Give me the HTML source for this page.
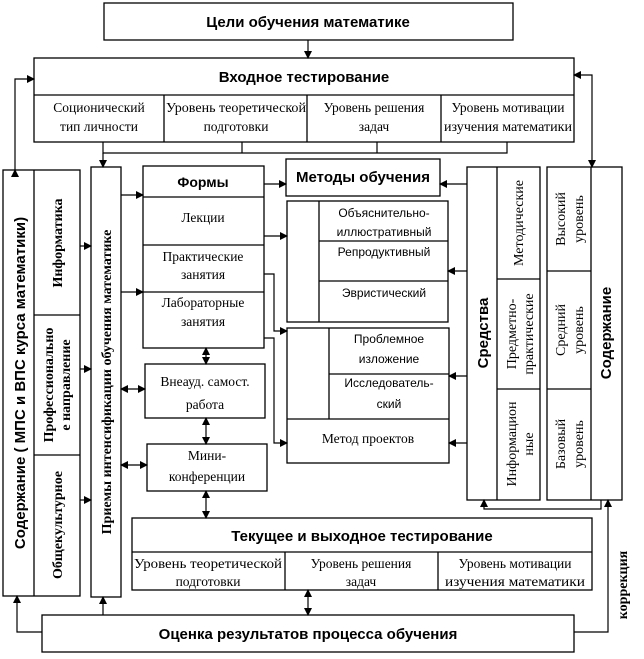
<!DOCTYPE html>
<html><head><meta charset="utf-8"><style>
html,body{margin:0;padding:0;background:#fff}
svg{display:block}
.s{font-family:"Liberation Sans",sans-serif}
.r{font-family:"Liberation Serif",serif}
</style></head><body>
<svg width="644" height="659" viewBox="0 0 644 659" xmlns="http://www.w3.org/2000/svg">
<defs>
<marker id="a" markerWidth="8" markerHeight="8" refX="7" refY="4" orient="auto" markerUnits="userSpaceOnUse"><path d="M0,0 L8,4 L0,8 z" fill="#000"/></marker>
<marker id="b" markerWidth="8" markerHeight="8" refX="1" refY="4" orient="auto" markerUnits="userSpaceOnUse"><path d="M8,0 L0,4 L8,8 z" fill="#000"/></marker>
</defs>
<g fill="none" stroke="#000" stroke-width="1.3">
<rect x="104" y="3" width="409" height="37"/>
<rect x="34" y="58" width="540" height="84"/>
<line x1="34" y1="95" x2="574" y2="95"/>
<line x1="164" y1="95" x2="164" y2="142"/><line x1="307" y1="95" x2="307" y2="142"/><line x1="441" y1="95" x2="441" y2="142"/>
<rect x="3" y="170" width="77" height="426"/>
<line x1="34" y1="170" x2="34" y2="596"/>
<line x1="34" y1="315" x2="80" y2="315"/><line x1="34" y1="455" x2="80" y2="455"/>
<rect x="91" y="167" width="30" height="430"/>
<rect x="143" y="166" width="121" height="182"/>
<line x1="143" y1="197" x2="264" y2="197"/><line x1="143" y1="245" x2="264" y2="245"/><line x1="143" y1="292" x2="264" y2="292"/>
<rect x="286" y="159" width="154" height="37"/>
<rect x="287" y="201" width="161" height="121"/>
<line x1="319" y1="201" x2="319" y2="322"/>
<line x1="319" y1="241" x2="448" y2="241"/><line x1="319" y1="281" x2="448" y2="281"/>
<rect x="287" y="328" width="162" height="135"/>
<line x1="329" y1="328" x2="329" y2="419"/>
<line x1="329" y1="374" x2="449" y2="374"/><line x1="287" y1="419" x2="449" y2="419"/>
<rect x="145" y="364" width="120" height="54"/>
<rect x="147" y="444" width="120" height="47"/>
<rect x="467" y="167" width="73" height="333"/>
<line x1="497" y1="167" x2="497" y2="500"/>
<line x1="497" y1="279" x2="540" y2="279"/><line x1="497" y1="389" x2="540" y2="389"/>
<rect x="547" y="167" width="75" height="333"/>
<line x1="591" y1="167" x2="591" y2="500"/>
<line x1="547" y1="271" x2="591" y2="271"/><line x1="547" y1="389" x2="591" y2="389"/>
<rect x="132" y="518" width="460" height="72"/>
<line x1="132" y1="552" x2="592" y2="552"/>
<line x1="285" y1="552" x2="285" y2="590"/><line x1="438" y1="552" x2="438" y2="590"/>
<rect x="42" y="615" width="532" height="37"/>
</g>
<g fill="none" stroke="#000" stroke-width="1.2">
<line x1="308" y1="40" x2="308" y2="58" marker-end="url(#a)"/>
<polyline points="103,142 103,153 507,153 507,142"/>
<line x1="242" y1="142" x2="242" y2="153"/><line x1="377" y1="142" x2="377" y2="153"/>
<line x1="103" y1="153" x2="103" y2="167" marker-end="url(#a)"/>
<polyline points="15,170 15,79 34,79" marker-start="url(#a)" marker-end="url(#a)"/>
<polyline points="574,75 592,75 592,167" marker-start="url(#b)" marker-end="url(#a)"/>
<line x1="80" y1="246" x2="91" y2="246" marker-end="url(#a)"/>
<line x1="80" y1="369" x2="91" y2="369" marker-end="url(#a)"/>
<line x1="80" y1="500" x2="91" y2="500" marker-end="url(#a)"/>
<line x1="121" y1="195" x2="143" y2="195" marker-end="url(#a)"/>
<line x1="121" y1="292" x2="143" y2="292" marker-end="url(#a)"/>
<line x1="121" y1="389" x2="145" y2="389" marker-start="url(#b)" marker-end="url(#a)"/>
<line x1="121" y1="465" x2="147" y2="465" marker-start="url(#b)" marker-end="url(#a)"/>
<line x1="264" y1="184" x2="286" y2="184" marker-end="url(#a)"/>
<line x1="264" y1="236" x2="287" y2="236" marker-end="url(#a)"/>
<polyline points="264,274 274,274 274,331 287,331" marker-end="url(#a)"/>
<polyline points="264,338 274,338 274,443 287,443" marker-end="url(#a)"/>
<line x1="206" y1="348" x2="206" y2="364" marker-start="url(#b)" marker-end="url(#a)"/>
<line x1="206" y1="418" x2="206" y2="444" marker-start="url(#b)" marker-end="url(#a)"/>
<line x1="206" y1="491" x2="206" y2="518" marker-start="url(#b)" marker-end="url(#a)"/>
<line x1="467" y1="184" x2="440" y2="184" marker-end="url(#a)"/>
<line x1="467" y1="271" x2="448" y2="271" marker-end="url(#a)"/>
<line x1="467" y1="376" x2="449" y2="376" marker-end="url(#a)"/>
<line x1="467" y1="443" x2="449" y2="443" marker-end="url(#a)"/>
<line x1="308" y1="590" x2="308" y2="615" marker-start="url(#b)" marker-end="url(#a)"/>
<polyline points="42,632 17,632 17,596" marker-end="url(#a)"/>
<line x1="103" y1="615" x2="103" y2="597" marker-end="url(#a)"/>
<polyline points="574,632 608,632 608,500" marker-end="url(#a)"/>
<polyline points="601,500 601,509 484,509 484,500" marker-end="url(#a)"/>
</g>
<g fill="#000" text-anchor="middle">
<text x="308" y="27" class="s" font-size="15" font-weight="bold">Цели обучения математике</text>
<text x="304" y="82" class="s" font-size="15" font-weight="bold">Входное тестирование</text>
<g class="r" font-size="13.5">
<text x="99" y="112">Соционический</text><text x="99" y="131">тип личности</text>
<text x="236" y="112" textLength="140" lengthAdjust="spacingAndGlyphs">Уровень теоретической</text><text x="236" y="131">подготовки</text>
<text x="374" y="112">Уровень решения</text><text x="374" y="131">задач</text>
<text x="508" y="112">Уровень мотивации</text><text x="508" y="131" textLength="128" lengthAdjust="spacingAndGlyphs">изучения математики</text>
<text x="203" y="222">Лекции</text>
<text x="203" y="261">Практические</text><text x="203" y="279">занятия</text>
<text x="203" y="307">Лабораторные</text><text x="203" y="326">занятия</text>
<text x="205" y="386">Внеауд. самост.</text><text x="205" y="409">работа</text>
<text x="207" y="460">Мини-</text><text x="207" y="481">конференции</text>
<text x="368" y="443">Метод проектов</text>
<text x="208" y="568" textLength="148" lengthAdjust="spacingAndGlyphs">Уровень теоретической</text><text x="208" y="586">подготовки</text>
<text x="361" y="568">Уровень решения</text><text x="361" y="586">задач</text>
<text x="515" y="568">Уровень мотивации</text><text x="515" y="586" textLength="140" lengthAdjust="spacingAndGlyphs">изучения математики</text>
</g>
<text x="203" y="187" class="s" font-size="14" font-weight="bold">Формы</text>
<text x="363" y="182" class="s" font-size="15" font-weight="bold">Методы обучения</text>
<g class="s" font-size="12">
<text x="384" y="217">Объяснительно-</text><text x="384" y="236">иллюстративный</text>
<text x="384" y="256">Репродуктивный</text>
<text x="384" y="297">Эвристический</text>
<text x="389" y="343">Проблемное</text><text x="389" y="363">изложение</text>
<text x="389" y="387">Исследователь-</text><text x="389" y="408">ский</text>
</g>
<text x="362" y="541" class="s" font-size="15" font-weight="bold">Текущее и выходное тестирование</text>
<text x="308" y="639" class="s" font-size="15" font-weight="bold">Оценка результатов процесса обучения</text>
<text transform="translate(25,383) rotate(-90)" class="s" font-size="15" font-weight="bold">Содержание ( МПС и ВПС курса математики)</text>
<text transform="translate(111,382) rotate(-90)" class="r" font-size="14" font-weight="bold">Приемы интенсификации обучения математике</text>
<text transform="translate(62,243) rotate(-90)" class="r" font-size="14" font-weight="bold">Информатика</text>
<text transform="translate(53,385) rotate(-90)" class="r" font-size="14" font-weight="bold">Профессионально</text>
<text transform="translate(70,385) rotate(-90)" class="r" font-size="14" font-weight="bold">е направление</text>
<text transform="translate(62,525) rotate(-90)" class="r" font-size="14" font-weight="bold">Общекультурное</text>
<text transform="translate(488,333) rotate(-90)" class="s" font-size="15" font-weight="bold">Средства</text>
<text transform="translate(523,223) rotate(-90)" class="r" font-size="14">Методические</text>
<text transform="translate(516,334) rotate(-90)" class="r" font-size="14">Предметно-</text>
<text transform="translate(533,334) rotate(-90)" class="r" font-size="14">практические</text>
<text transform="translate(516,444) rotate(-90)" class="r" font-size="14">Информацион</text>
<text transform="translate(533,444) rotate(-90)" class="r" font-size="14">ные</text>
<text transform="translate(565,219) rotate(-90)" class="r" font-size="14">Высокий</text>
<text transform="translate(583,219) rotate(-90)" class="r" font-size="14">уровень</text>
<text transform="translate(565,330) rotate(-90)" class="r" font-size="14">Средний</text>
<text transform="translate(583,330) rotate(-90)" class="r" font-size="14">уровень</text>
<text transform="translate(565,444) rotate(-90)" class="r" font-size="14">Базовый</text>
<text transform="translate(583,444) rotate(-90)" class="r" font-size="14">уровень</text>
<text transform="translate(611,333) rotate(-90)" class="s" font-size="15" font-weight="bold">Содержание</text>
<text transform="translate(627,585) rotate(-90)" class="r" font-size="14" font-weight="bold">коррекция</text>
</g>
</svg>
</body></html>
